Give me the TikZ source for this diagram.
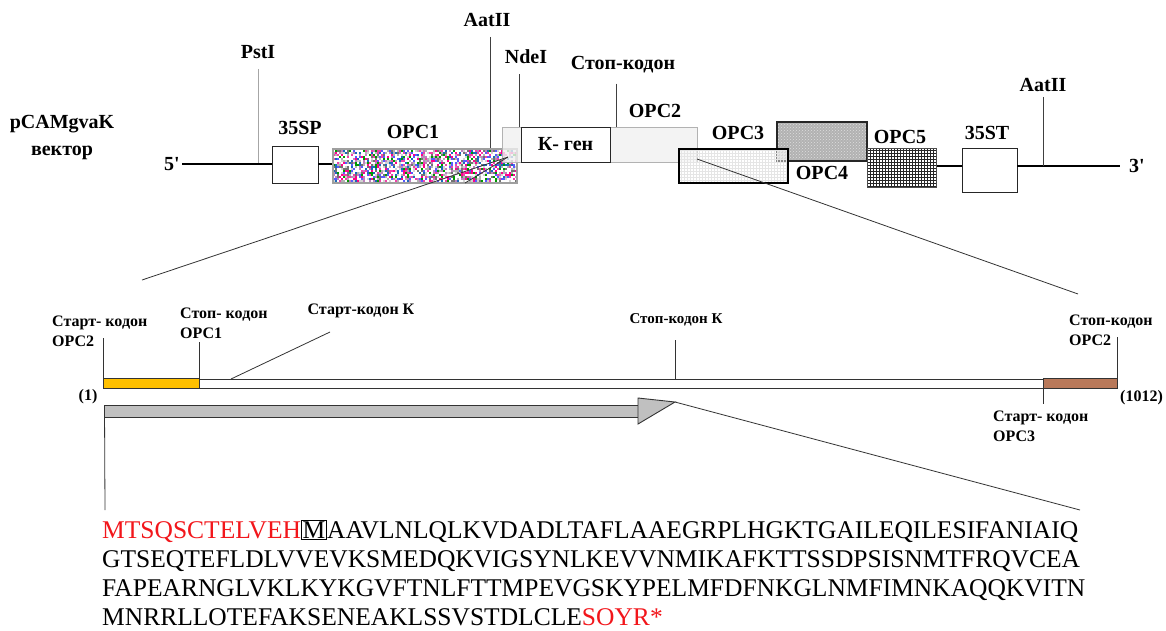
\documentclass[tikz,border=0pt]{standalone}
\usepackage{fontspec}
\setmainfont{Liberation Serif}
\usepackage{xcolor}
\usetikzlibrary{patterns, calc}
\definecolor{seqred}{HTML}{F2161B}
\definecolor{startgold}{HTML}{FFC000}
\definecolor{stopbrown}{HTML}{B9795A}
\definecolor{orfgray}{HTML}{C0C0C0}
% palette for the speckled ORF1 box
\colorlet{noise1}{white}
\colorlet{noise2}{white}
\colorlet{noise3}{white}
\colorlet{noise4}{white}
\colorlet{noise5}{white}
\colorlet{noise6}{gray!35}
\colorlet{noise7}{magenta!75}
\colorlet{noise8}{green!60!black}
\colorlet{noise9}{blue!65}
\colorlet{noise10}{black!55}
\colorlet{noise11}{violet!50}
\colorlet{noise12}{red!45!magenta}
\colorlet{noise13}{cyan!45!blue}
\colorlet{noise14}{gray!60}
\newcommand{\boxedres}[1]{{\fboxsep=1pt\fboxrule=0.7pt\fbox{#1}}}
\tikzset{
  lbl/.style={font=\bfseries\fontsize{20}{27}\selectfont, inner sep=0pt},
  lblsmall/.style={font=\bfseries\fontsize{16}{20}\selectfont, inner sep=0pt, align=left},
  plainbox/.style={draw=black!85, fill=white, line width=0.9pt, inner sep=0pt},
  strand/.style={line width=2.6pt},
  cutline/.style={draw=black!75, line width=0.8pt, shorten <=10pt},
  tick/.style={draw=black!80, line width=0.8pt},
  zoomline/.style={draw=black!80, line width=0.8pt},
  seqline/.style={font=\fontsize{25.5}{29}\selectfont, inner sep=0pt, anchor=base west},
}

\begin{document}
\begin{tikzpicture}[x=1pt, y=-1pt]
  \useasboundingbox (0,0) rectangle (1166,630);

  % ---- vector map
  \node[lbl, align=center] (vec) at (62,138) {pCAMgvaK\\вектор};
  \node[lbl] (end5) at (172,164) {5\textquotesingle};
  \node[lbl] (end3) at (1137,166) {3\textquotesingle};
  \coordinate (bbL) at (182,164);
  \coordinate (bbR) at (1120,166);

  \node[plainbox, minimum width=46, minimum height=37] (p35) at (295,164.5) {};
  \node[lbl] (p35lbl) at (300,128) {35SP};

  % speckled ORF1
  \pgfmathsetseed{12}
  \foreach \i in {0,...,91}{
    \foreach \j in {0,...,16}{
      \pgfmathrandominteger{\k}{1}{14}
      \fill[noise\k] (333+2*\i,149.5+2*\j) rectangle ++(2,2);
    }
  }
  \node[draw=gray!75, line width=2pt, minimum width=184, minimum height=34, inner sep=0pt] (orf1) at (425,166) {};
  \node[lbl] (orf1lbl) at (413,132) {ОРС1};

  \node[draw=gray!60, line width=1pt, fill=gray!12, fill opacity=0.8, minimum width=195, minimum height=35, inner sep=0pt] (orf2) at (599.5,144.5) {};
  \node[plainbox, font=\bfseries\fontsize{20}{22}\selectfont, minimum width=89, minimum height=35] (kgene) at (565.5,144.5) {К- ген};
  \node[lbl] (orf2lbl) at (655,111) {ОРС2};

  \node[draw=black!85, line width=1.8pt, preaction={fill=gray!60}, pattern=crosshatch dots, pattern color=gray!25, minimum width=90, minimum height=39, inner sep=0pt] (orf4) at (822,141.5) {};
  \node[draw=black, line width=2.5pt, preaction={fill=white, fill opacity=0.45}, pattern=grid, pattern color=gray!20, minimum width=109, minimum height=34, inner sep=0pt] (orf3) at (733.5,166) {};
  \node[lbl] (orf3lbl) at (738,133) {ОРС3};
  \node[lbl] (orf4lbl) at (822,173) {ОРС4};

  \node[draw=black!70, line width=1pt, preaction={fill=white}, pattern=grid, pattern color=black!85, minimum width=69, minimum height=39, inner sep=0pt] (orf5) at (901.5,167.5) {};
  \node[lbl] (orf5lbl) at (900,137) {ОРС5};

  \node[plainbox, minimum width=55, minimum height=44] (t35) at (989.5,170) {};
  \node[lbl] (t35lbl) at (987,133) {35ST};

  % backbone
  \draw[strand] (bbL) -- (p35.west |- bbL);
  \draw[strand] (p35.east |- bbL) -- (orf1.west |- bbL);
  \draw[strand] (orf5.east |- bbR) -- (t35.west |- bbR);
  \draw[strand] (t35.east |- bbR) -- (bbR);

  % restriction sites
  \node[lbl] (pstI) at (258,52) {PstI};
  \draw[cutline, draw=gray!70] (pstI.south) -- ([yshift=1.5pt]pstI.south |- bbL);
  \node[lbl] (aatIa) at (487,20) {AatII};
  \draw[cutline] ([xshift=3pt]aatIa.south) -- ([xshift=3pt]aatIa.south |- orf1.north);
  \node[lbl] (ndeI) at (526,57) {NdeI};
  \draw[cutline] ([xshift=-7pt]ndeI.south) -- ([xshift=-7pt]ndeI.south |- orf2.north);
  \node[lbl] (stopk) at (623,65) {Стоп-кодон};
  \draw[cutline] ([xshift=-7pt]stopk.south) -- ([xshift=-7pt]stopk.south |- kgene.north);
  \node[lbl] (aatIb) at (1043,85) {AatII};
  \draw[cutline, shorten <=5pt] (aatIb.south) -- (aatIb.south |- bbR);

  % zoom lines
  \coordinate (cutL) at (508,157);
  \coordinate (cutLb) at (465,183);
  \coordinate (insL) at (142,280);
  \coordinate (cutR) at (697,159);
  \coordinate (insR) at (1078,294);
  \draw[zoomline] (cutL) -- (insL);
  \draw[zoomline] (cutL) -- (cutLb);
  \draw[zoomline] (cutR) -- (insR);

  % ---- insert
  \node[draw=black!80, line width=0.9pt, fill=white, minimum width=1013, minimum height=9, inner sep=0pt] (insert) at (610.5,383.5) {};
  \coordinate (goldend) at ($(insert.south west)+(96,0)$);
  \coordinate (brownstart) at ($(insert.north east)+(-74,0)$);
  \draw[fill=startgold, draw=black!80, line width=0.9pt] (insert.north west) rectangle (goldend);
  \draw[fill=stopbrown, draw=black!80, line width=0.9pt] (brownstart) rectangle (insert.south east);
  \coordinate (kstart) at (231,379);
  \coordinate (kstop) at (675,379);

  \node[lblsmall, anchor=west] (starto2) at (52,331) {Старт- кодон\\ОРС2};
  \draw[tick] (insert.north west) -- ([yshift=-7pt]insert.north west |- starto2.east);
  \node[lblsmall, anchor=west] (stopo1) at (180,323) {Стоп- кодон\\ОРС1};
  \draw[tick] (goldend |- insert.north) -- (goldend |- 0,342);
  \node[lblsmall] (startk) at (361,311) {Старт-кодон К};
  \draw[tick] (kstart) -- ([shift={(-31,21)}]startk.center);
  \node[lblsmall, font=\bfseries\fontsize{15}{19}\selectfont] (stopkl) at (676,320) {Стоп-кодон К};
  \draw[tick] (kstop) -- (kstop |- 0,340);
  \node[lblsmall, anchor=west] (stopo2) at (1069,330) {Стоп-кодон\\ОРС2};
  \draw[tick] (insert.north east) -- (insert.north east |- 0,337);
  \node[lblsmall, anchor=west] (starto3) at (993,426) {Старт- кодон\\ОРС3};
  \draw[tick] (brownstart |- insert.south) -- (brownstart |- 0,404);
  \node[lblsmall] (first) at (88,397) {(1)};
  \node[lblsmall, anchor=west] (last) at (1120,398) {(1012)};

  % ORF K arrow
  \node[draw=black!80, line width=0.9pt, fill=orfgray, minimum width=534, minimum height=12, inner sep=0pt] (orfk) at (371,411) {};
  \coordinate (tip) at (675,402);
  \draw[fill=orfgray, draw=black!80, line width=0.9pt] (638,398) -- (tip) -- (638,424) -- cycle;
  \coordinate (seqL) at (105,510);
  \coordinate (seqR) at (1080,510);
  \draw[zoomline] ([xshift=1pt]orfk.south west) -- (seqL);
  \draw[zoomline] (tip) -- (seqR);

  % ---- protein sequence
  \node[seqline] (seq1) at (102,538) {\textcolor{seqred}{MTSQSCTELVEH}\boxedres{M}AAVLNLQLKVDADLTAFLAAEGRPLHGKTGAILEQILESIFANIAIQ};
  \node[seqline] (seq2) at (102,567) {GTSEQTEFLDLVVEVKSMEDQKVIGSYNLKEVVNMIKAFKTTSSDPSISNMTFRQVCEA};
  \node[seqline] (seq3) at (102,596) {FAPEARNGLVKLKYKGVFTNLFTTMPEVGSKYPELMFDFNKGLNMFIMNKAQQKVITN};
  \node[seqline] (seq4) at (102,625) {MNRRLLOTEFAKSENEAKLSSVSTDLCLE\textcolor{seqred}{SOYR*}};
\end{tikzpicture}
\end{document}
